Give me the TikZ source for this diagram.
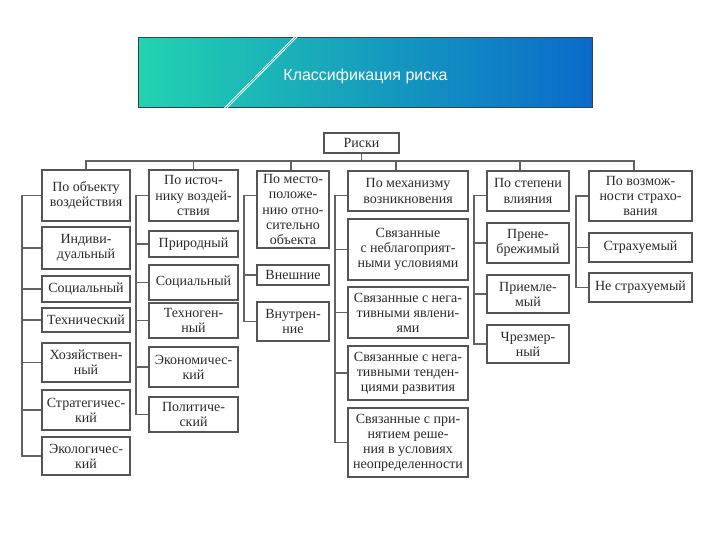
\documentclass[tikz,border=0pt]{standalone}
\usepackage{fontspec}
\setmainfont{Liberation Serif}
\newfontfamily\titlefont{Liberation Sans}
\usetikzlibrary{positioning}
\definecolor{linegray}{HTML}{626262}
\definecolor{boxgray}{HTML}{555555}
\definecolor{textgray}{HTML}{2A2A2A}
\definecolor{bannerA}{HTML}{22D3B0}
\definecolor{bannerB}{HTML}{19BEE0}
\definecolor{bannerC}{HTML}{0A6ACB}
\definecolor{bannerEdge}{HTML}{2C4656}

\begin{document}
\begin{tikzpicture}[x=0.75pt, y=-0.75pt,
  box/.style={draw=boxgray, line width=1.1pt, align=center, inner sep=0pt,
              text=textgray, font=\fontsize{10.5}{11.3}\selectfont, minimum width=#1},
  box/.default=66pt,
  link/.style={draw=linegray, line width=1.25pt}]
  \useasboundingbox (0,0) rectangle (720,540);
  % header
  \node[draw=bannerEdge, line width=0.8pt, left color=bannerA, middle color=bannerB, right color=bannerC,
        minimum width=341pt, minimum height=53pt, inner sep=0pt] (banner) at (365.5,72.5) {};
  \draw[white, line width=0.6pt] (297,37) -- (227,108) (294.5,37) -- (224.5,108);
  \node[text=white, font=\titlefont\fontsize{12}{14}\selectfont] (title) at (365.5,76) {Классификация риска};
  % root and the six criteria
  \node[box=56pt, minimum height=15pt] (riski)  at (361.5,143) {Риски};
  \node[box=66pt, minimum height=38.25pt] (obj)    at (86,195.5)  {По объекту\\воздействия};
  \node[box=66.75pt, minimum height=38.25pt] (src) at (193.5,195.5) {По источ-\\нику воздей-\\ствия};
  \node[box=54pt, minimum height=57.75pt] (place)  at (293,209.5) {По место-\\положе-\\нию отно-\\сительно\\объекта};
  \node[box=90pt, minimum height=30pt] (mech)      at (408,191)   {По механизму\\возникновения};
  \node[box=61.5pt, minimum height=30pt] (degree)  at (528,191)   {По степени\\влияния};
  \node[box=77.25pt, minimum height=37.5pt] (insur) at (640.5,196) {По возмож-\\ности страхо-\\вания};
  % by object
  \node[box, minimum height=31.5pt]  (ind)   at (86,248)   {Индиви-\\дуальный};
  \node[box, minimum height=19.5pt]  (soc1)  at (86,289)   {Социальный};
  \node[box, minimum height=18pt]    (tech)  at (86,320)   {Технический};
  \node[box, minimum height=29.25pt] (hoz)   at (86,362.5) {Хозяйствен-\\ный};
  \node[box, minimum height=30pt]    (strat) at (86,410)   {Стратегичес-\\кий};
  \node[box, minimum height=28.5pt]  (eco)   at (86,456)   {Экологичес-\\кий};
  % by source
  \node[box=66.75pt, minimum height=19.5pt]  (prir)  at (193.5,244)   {Природный};
  \node[box=66.75pt, minimum height=26.25pt] (soc2)  at (193.5,282.5) {Социальный};
  \node[box=66.75pt, minimum height=26.25pt] (tehg)  at (193.5,320.5) {Техноген-\\ный};
  \node[box=66.75pt, minimum height=30pt]    (ekon)  at (193.5,367)   {Экономичес-\\кий};
  \node[box=66.75pt, minimum height=26.25pt] (polit) at (193.5,414.5) {Политиче-\\ский};
  % by location
  \node[box=54pt, minimum height=15pt]    (vnesh) at (293,275)   {Внешние};
  \node[box=54pt, minimum height=29.25pt] (vnutr) at (293,321.5) {Внутрен-\\ние};
  % by mechanism
  \node[box=90pt, minimum height=45.75pt] (sv1) at (408,249.5) {Связанные\\с неблагоприят-\\ными условиями};
  \node[box=90pt, minimum height=38.25pt] (sv2) at (408,312.5) {Связанные с нега-\\тивными явлени-\\ями};
  \node[box=90pt, minimum height=40.5pt]  (sv3) at (408,373)   {Связанные с нега-\\тивными тенден-\\циями развития};
  \node[box=90pt, minimum height=51.75pt] (sv4) at (408,442.5) {Связанные с при-\\нятием реше-\\ния в условиях\\неопределенности};
  % by degree
  \node[box=61.5pt, minimum height=30pt]   (pren)  at (528,243) {Прене-\\брежимый};
  \node[box=61.5pt, minimum height=28.5pt] (priem) at (528,294) {Приемле-\\мый};
  \node[box=61.5pt, minimum height=28.5pt] (chrez) at (528,344) {Чрезмер-\\ный};
  % by insurance
  \node[box=77.25pt, minimum height=21.75pt] (strah)   at (640.5,247.5) {Страхуемый};
  \node[box=77.25pt, minimum height=21.75pt] (nestrah) at (640.5,287.5) {Не страхуемый};
  % top bus
  \draw[link] (riski.south) -- ++(0,7) coordinate (bus);
  \draw[link] (obj.north) |- (bus) -| ([xshift=-5pt]insur.north);
  \foreach \n/\dx in {src/0pt, place/-1.5pt, mech/-9pt, degree/-6pt}
    \draw[link] ([xshift=\dx]\n.north) -- ([xshift=\dx]\n.north |- bus);
  % side rails
  \foreach \n in {ind,soc1,tech,hoz,strat,eco}
    \draw[link] (obj.west) -- ++(-19,0) |- (\n.west);
  \foreach \n in {prir,soc2,tehg,ekon,polit}
    \draw[link] (src.west) -- ++(-12,0) |- (\n.west);
  \foreach \n in {vnesh,vnutr}
    \draw[link] (place.west |- obj.west) -- ++(-12,0) |- (\n.west);
  \foreach \n in {sv1,sv2,sv3,sv4}
    \draw[link] (mech.west |- obj.west) -- ++(-12,0) |- (\n.west);
  \foreach \n in {pren,priem,chrez}
    \draw[link] (degree.west |- obj.west) -- ++(-12,0) |- (\n.west);
  \foreach \n in {strah,nestrah}
    \draw[link] (insur.west) -- ++(-12,0) |- (\n.west);
\end{tikzpicture}
\end{document}
